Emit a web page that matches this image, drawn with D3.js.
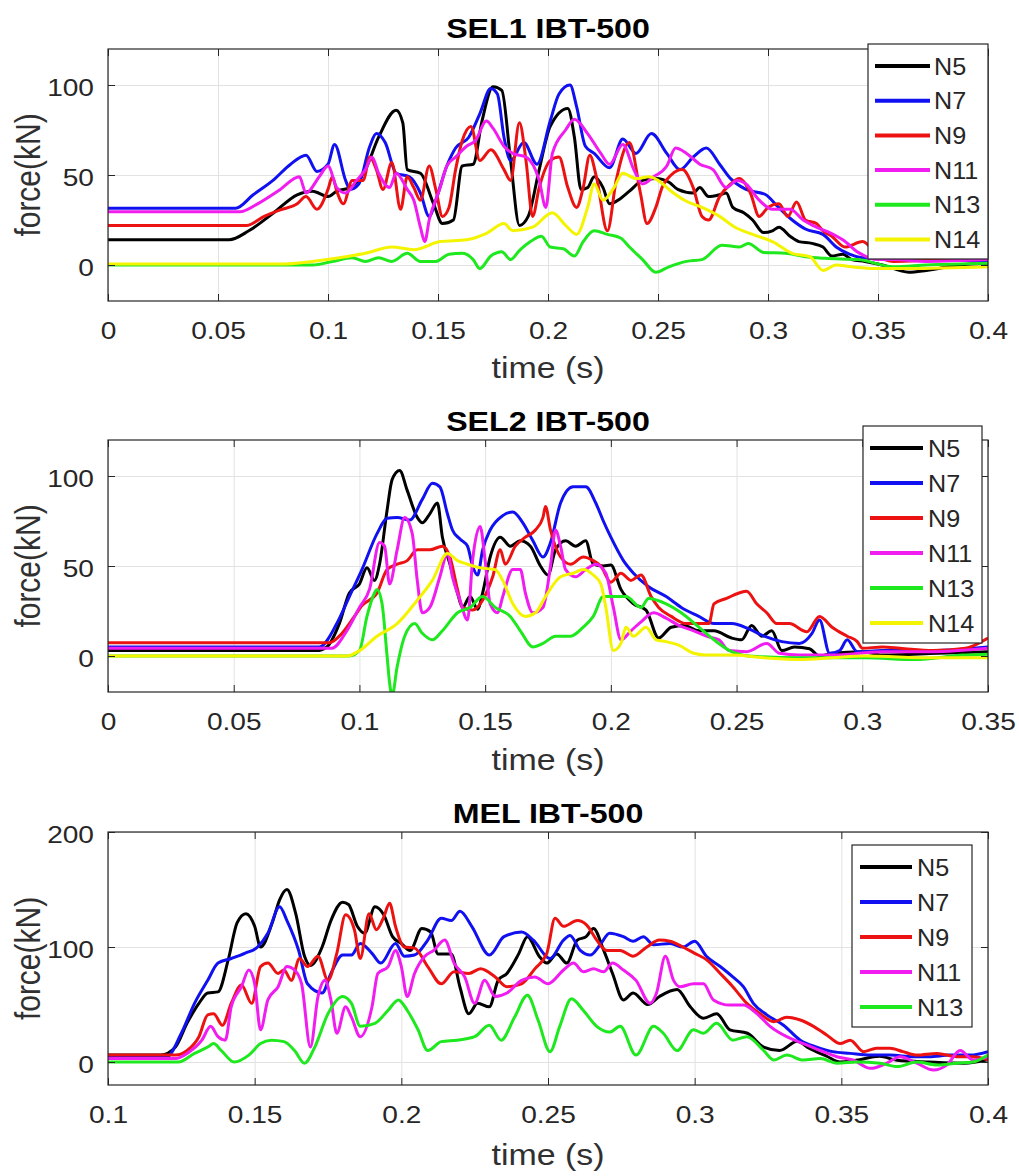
<!DOCTYPE html>
<html>
<head>
<meta charset="utf-8">
<script src="https://cdn.jsdelivr.net/npm/d3@7/dist/d3.min.js"></script>
<style>
  body { margin: 0; background: #fff; }
  text { font-family: "Liberation Sans", Arial, sans-serif; fill: #262626; }
</style>
</head>
<body>
<svg id="chart" width="1019" height="1176"></svg>
<script>
// ---- data (time s, force kN) ----
const seriesNames = ["N5", "N7", "N9", "N11", "N13", "N14"];

const sel1XTicks = [0, 0.05, 0.1, 0.15, 0.2, 0.25, 0.3, 0.35, 0.4];
const sel1YTicks = [0, 50, 100];
const sel2XTicks = [0, 0.05, 0.1, 0.15, 0.2, 0.25, 0.3, 0.35];
const sel2YTicks = [0, 50, 100];
const melXTicks = [0.1, 0.15, 0.2, 0.25, 0.3, 0.35, 0.4];
const melYTicks = [0, 100, 200];

const sel1N5 = [[0,14],[0.055,14],[0.064,19],[0.075,28.7],[0.086,39],[0.093,41],[0.1,38],[0.104,41],[0.11,43],[0.117,53],[0.123,71],[0.131,86],[0.134,79],[0.136,53],[0.142,51],[0.148,34],[0.152,23],[0.157,25],[0.161,55],[0.166,56],[0.17,80],[0.175,99],[0.179,97],[0.183,58],[0.187,22],[0.191,27],[0.196,53],[0.201,77],[0.209,87],[0.212,71],[0.215,42],[0.218,43],[0.221,49],[0.225,43],[0.228,34],[0.233,37],[0.237,41],[0.243,47],[0.249,48],[0.255,46],[0.259,42],[0.266,40],[0.269,43],[0.273,38],[0.278,39],[0.281,40],[0.284,32],[0.289,29],[0.293,25],[0.298,18],[0.302,19],[0.305,21],[0.31,16],[0.314,13],[0.32,12],[0.325,10],[0.329,5],[0.334,6],[0.338,3],[0.344,2],[0.352,0],[0.364,-4],[0.372,-3],[0.387,0],[0.4,1]];
const sel1N7 = [[0,31.5],[0.058,31.5],[0.066,39],[0.075,47],[0.083,56],[0.09,61],[0.095,52],[0.1,56],[0.103,67],[0.108,47],[0.11,42],[0.114,45],[0.119,66],[0.122,73],[0.126,68],[0.131,51],[0.137,49],[0.142,40],[0.146,27],[0.149,36],[0.154,55],[0.158,65],[0.164,71],[0.169,84],[0.174,98],[0.177,95],[0.18,71],[0.183,58],[0.189,68],[0.195,56],[0.201,80],[0.205,95],[0.21,100],[0.213,88],[0.217,66],[0.221,62],[0.228,54],[0.234,70],[0.24,62],[0.247,73],[0.254,62],[0.26,53],[0.266,60],[0.272,65],[0.278,56],[0.283,48],[0.29,42],[0.299,39],[0.304,33],[0.311,25],[0.317,20],[0.325,17],[0.331,10],[0.337,6],[0.343,4],[0.36,3],[0.372,3],[0.4,2]];
const sel1N9 = [[0,22],[0.063,22],[0.071,27],[0.078,30.5],[0.086,34],[0.09,38],[0.095,31],[0.1,42],[0.102,49],[0.104,41],[0.107,34],[0.111,47],[0.116,47],[0.119,60],[0.122,53],[0.125,42],[0.129,57],[0.133,31],[0.136,49],[0.139,43],[0.142,36],[0.146,55],[0.149,42],[0.152,27],[0.155,32],[0.158,53],[0.161,69],[0.165,77],[0.169,58],[0.174,64],[0.18,53],[0.183,47],[0.187,79],[0.19,58],[0.193,27],[0.196,43],[0.201,58],[0.205,60],[0.209,43],[0.213,32],[0.216,43],[0.219,61],[0.222,49],[0.227,19],[0.231,47],[0.237,68],[0.242,40],[0.245,23],[0.249,32],[0.252,43.5],[0.256,50],[0.261,53],[0.266,43],[0.27,27],[0.273,25],[0.278,38],[0.283,45],[0.287,48],[0.292,40],[0.296,27],[0.3,32],[0.305,34],[0.309,27],[0.313,35],[0.317,25],[0.322,23],[0.325,19],[0.329,16],[0.335,10],[0.343,13],[0.35,5],[0.357,2],[0.38,3],[0.4,3]];
const sel1N11 = [[0,29.6],[0.06,29.6],[0.068,34],[0.078,41.7],[0.087,49],[0.09,40],[0.096,49],[0.1,55],[0.104,43],[0.108,40],[0.113,47],[0.117,53],[0.12,60],[0.123,51],[0.128,43],[0.131,51],[0.136,42],[0.139,36],[0.142,21],[0.144,13],[0.146,25],[0.151,43],[0.154,55],[0.158,60],[0.163,66],[0.167,69],[0.172,80],[0.175,76],[0.18,66],[0.184,62],[0.19,60],[0.196,47],[0.199,32],[0.202,62],[0.208,75],[0.212,81],[0.218,73],[0.224,62],[0.228,56],[0.234,67],[0.239,53],[0.243,45],[0.248,49],[0.254,55],[0.258,65],[0.263,62],[0.269,56],[0.275,53],[0.281,43],[0.286,47],[0.29,45],[0.296,36],[0.302,31],[0.31,31],[0.316,25],[0.322,21],[0.328,18],[0.334,14],[0.341,7],[0.35,3],[0.357,3],[0.372,2],[0.4,3]];
const sel1N13 = [[0,0],[0.093,0],[0.102,2],[0.111,4],[0.117,2],[0.123,4],[0.129,2],[0.136,6.5],[0.142,2],[0.149,2],[0.155,6],[0.161,6.5],[0.166,3],[0.169,-2],[0.174,5],[0.179,7.4],[0.183,3],[0.187,8],[0.192,13],[0.197,16],[0.201,10],[0.207,9],[0.212,5],[0.216,13],[0.221,19],[0.227,17],[0.233,15],[0.237,10],[0.243,3],[0.249,-4],[0.255,-1],[0.263,2],[0.27,3],[0.279,11],[0.287,10],[0.291,12],[0.298,7],[0.308,6.5],[0.317,4.6],[0.326,3.7],[0.341,3],[0.357,-1],[0.372,0],[0.4,1]];
const sel1N14 = [[0,0.5],[0.078,0.5],[0.093,2],[0.108,4.6],[0.117,6.5],[0.129,10],[0.139,8.5],[0.151,13],[0.163,14],[0.172,17.6],[0.18,23],[0.184,19],[0.193,21],[0.202,29],[0.208,22],[0.213,17],[0.218,32],[0.221,45],[0.225,36],[0.23,43],[0.234,51],[0.24,48],[0.246,49],[0.25,47],[0.256,41],[0.262,36],[0.27,32],[0.278,27],[0.285,21],[0.293,17],[0.302,13],[0.311,6.5],[0.319,4.6],[0.325,-3],[0.331,0],[0.338,-1],[0.349,-2],[0.364,-2],[0.4,-1]];

const sel2N5 = [[0,3],[0.083,3],[0.087,5],[0.092,18],[0.096,35],[0.1,40],[0.103,49],[0.106,42],[0.108,51],[0.111,81],[0.113,98],[0.116,103],[0.119,92],[0.123,77],[0.125,74],[0.128,79],[0.131,85],[0.133,66],[0.136,51],[0.139,35],[0.141,27],[0.144,33],[0.147,26],[0.149,35],[0.152,55],[0.156,66],[0.16,61],[0.164,64],[0.168,61],[0.172,50],[0.175,45],[0.178,59],[0.182,64],[0.186,61],[0.19,64],[0.193,51],[0.197,50],[0.2,50.5],[0.204,37],[0.209,29],[0.214,25.5],[0.219,10],[0.224,16],[0.229,17],[0.235,14],[0.241,14],[0.248,10],[0.252,9],[0.256,17],[0.26,11],[0.264,14],[0.268,3],[0.273,5],[0.279,4],[0.283,0],[0.288,1.5],[0.3,2.4],[0.308,0.5],[0.33,1.5],[0.35,2.4]];
const sel2N7 = [[0,5],[0.084,5],[0.091,18],[0.096,33],[0.101,48],[0.107,68],[0.111,76.5],[0.115,77],[0.12,75.5],[0.125,87],[0.129,96],[0.132,94],[0.135,79],[0.137,70],[0.14,65],[0.143,61],[0.145,50],[0.147,45],[0.149,59],[0.152,70],[0.157,78],[0.161,80],[0.165,74],[0.169,64],[0.173,55],[0.176,63],[0.18,85],[0.185,94],[0.19,94],[0.194,85],[0.197,75],[0.2,66],[0.205,53],[0.209,46],[0.215,38.5],[0.222,33],[0.228,27],[0.235,22],[0.241,18],[0.248,18],[0.255,15],[0.261,11],[0.268,8],[0.275,7],[0.28,12.6],[0.283,20],[0.287,1.5],[0.291,3],[0.294,9],[0.298,2.4],[0.308,3],[0.328,3],[0.35,5]];
const sel2N9 = [[0,7.4],[0.088,7.4],[0.092,11],[0.098,22],[0.101,28],[0.107,35],[0.111,48],[0.115,51],[0.119,53],[0.123,59],[0.128,59],[0.133,61],[0.136,55],[0.139,37],[0.141,27],[0.145,25.5],[0.149,31],[0.153,44],[0.156,59],[0.158,51],[0.162,61],[0.166,66],[0.17,70],[0.173,77],[0.174,83],[0.176,70],[0.18,55],[0.184,51],[0.189,55],[0.193,53],[0.196,50],[0.2,41],[0.204,46],[0.208,42],[0.212,45],[0.216,33],[0.219,27],[0.224,22],[0.23,18],[0.235,18],[0.239,18],[0.241,29],[0.246,32],[0.251,35],[0.254,36],[0.258,29],[0.262,24],[0.266,18],[0.271,18],[0.278,13.5],[0.283,22],[0.288,16],[0.294,11],[0.298,8],[0.3,4.3],[0.308,5],[0.315,4.3],[0.328,3],[0.341,4.3],[0.35,10]];
const sel2N11 = [[0,4.3],[0.089,4.3],[0.095,14],[0.1,27],[0.104,37],[0.108,63],[0.11,61],[0.112,40],[0.115,59],[0.118,77],[0.121,68],[0.123,42],[0.125,24],[0.128,27],[0.132,44],[0.135,57],[0.137,44],[0.14,31],[0.143,20],[0.145,53],[0.148,72],[0.15,53],[0.152,29],[0.155,24],[0.157,33],[0.161,48],[0.164,48],[0.166,35],[0.169,24],[0.173,27],[0.176,50],[0.178,70],[0.18,61],[0.182,48],[0.186,44],[0.19,48],[0.194,51],[0.198,46],[0.201,27],[0.204,9],[0.208,14],[0.212,19],[0.217,24],[0.222,21],[0.227,17],[0.233,14],[0.238,11],[0.243,9],[0.247,3],[0.254,2.4],[0.262,7],[0.267,1.5],[0.275,0.5],[0.288,0.5],[0.308,2.4],[0.328,2.4],[0.35,4.3]];
const sel2N13 = [[0,0],[0.096,0],[0.1,3],[0.103,22],[0.106,35],[0.107,37],[0.109,29],[0.111,0],[0.112,-15],[0.113,-22],[0.115,-6],[0.118,11],[0.122,18],[0.125,12.6],[0.129,9],[0.133,14],[0.139,24],[0.144,27],[0.149,33],[0.154,27],[0.16,22],[0.164,14],[0.169,5],[0.173,7],[0.178,11],[0.184,11],[0.189,16],[0.193,22],[0.197,33],[0.201,33],[0.206,33],[0.212,27],[0.215,32],[0.222,29],[0.228,24],[0.235,16],[0.241,9],[0.248,2.4],[0.255,0],[0.275,-1],[0.301,-1],[0.321,-2],[0.34,0.5],[0.35,1]];
const sel2N14 = [[0,0],[0.095,0],[0.1,3],[0.107,11],[0.115,18],[0.123,31],[0.129,42],[0.135,57],[0.139,53],[0.143,51],[0.148,49],[0.154,48],[0.157,42],[0.161,29],[0.166,22],[0.17,24],[0.174,33],[0.18,44],[0.185,46],[0.189,48],[0.193,45],[0.196,40],[0.198,27],[0.201,3],[0.204,7],[0.206,16],[0.209,11],[0.214,16],[0.218,9],[0.222,8],[0.227,6],[0.233,1.5],[0.238,0.5],[0.248,0.5],[0.261,-1],[0.275,-2],[0.288,-1],[0.301,0],[0.328,-1],[0.35,-1]];

const melN5 = [[0.1,6],[0.118,6],[0.123,13],[0.127,34],[0.131,51],[0.134,60],[0.1375,61],[0.141,89],[0.144,121],[0.147,129],[0.15,118],[0.152,100],[0.156,121],[0.1585,141],[0.161,150],[0.164,129],[0.167,92],[0.169,84],[0.173,100],[0.176,123],[0.18,139],[0.182,137],[0.185,118],[0.1875,112],[0.191,135],[0.194,128],[0.197,109],[0.2,103],[0.203,97],[0.207,116],[0.21,113],[0.2125,94],[0.217,94],[0.22,65],[0.223,42],[0.226,51],[0.23,48],[0.233,71],[0.236,77],[0.24,94],[0.243,109],[0.247,92],[0.2496,86],[0.253,94],[0.2564,86],[0.26,106],[0.263,109],[0.2655,116],[0.269,97],[0.272,77],[0.2757,54],[0.279,60],[0.284,50],[0.288,57],[0.294,63],[0.2985,48],[0.303,38],[0.3075,42],[0.312,28],[0.318,25],[0.3235,13],[0.329,10],[0.335,18],[0.339,12],[0.345,5],[0.3496,0],[0.355,1.5],[0.363,5],[0.369,1.5],[0.38,0],[0.392,-1],[0.4,2]];
const melN7 = [[0.1,4.6],[0.12,4.6],[0.125,25],[0.1295,51],[0.134,71],[0.1375,86],[0.142,90],[0.1466,94.5],[0.151,100],[0.1545,112],[0.1585,135],[0.161,123],[0.165,97],[0.168,68],[0.173,60],[0.176,77],[0.18,93],[0.183,93],[0.186,103],[0.19,94.5],[0.193,86],[0.198,103],[0.201,92],[0.2045,93],[0.209,106],[0.2136,125],[0.217,123],[0.22,131],[0.224,118],[0.23,93],[0.235,109],[0.241,113],[0.245,106],[0.2507,90],[0.2553,106],[0.2575,110],[0.261,97],[0.2644,93],[0.2678,102],[0.271,112],[0.2757,109],[0.279,105],[0.2825,109],[0.286,102],[0.2916,103],[0.296,100],[0.3,105],[0.304,92],[0.3087,83],[0.313,74],[0.3166,65.5],[0.32,51],[0.3246,41],[0.3303,32],[0.336,19],[0.3416,13],[0.347,9],[0.353,7.5],[0.36,6],[0.3666,6],[0.3746,4.6],[0.38,4.6],[0.387,6],[0.394,6],[0.4,9]];
const melN9 = [[0.1,6],[0.123,6],[0.127,10],[0.131,22],[0.134,41],[0.136,42],[0.139,32],[0.142,51],[0.1455,67],[0.149,51],[0.152,83],[0.1545,86],[0.158,77],[0.16,80],[0.1625,71],[0.1653,90],[0.168,83],[0.1716,92],[0.175,71],[0.178,94.5],[0.181,128],[0.184,115],[0.186,90],[0.189,129],[0.1915,115],[0.194,126],[0.196,138],[0.198,118],[0.201,100],[0.2045,99],[0.209,83],[0.2136,68],[0.218,78.5],[0.223,77],[0.227,81],[0.232,74],[0.236,65.5],[0.241,68],[0.2455,81],[0.2496,94.5],[0.2524,125],[0.2553,118],[0.26,123],[0.2632,119],[0.2666,106],[0.27,97],[0.2746,97],[0.279,92],[0.2837,100],[0.288,106],[0.2916,105],[0.296,100],[0.3,94.5],[0.304,89],[0.3087,77],[0.313,65.5],[0.3178,51],[0.3223,42],[0.327,35],[0.3314,39],[0.336,36.5],[0.3405,31],[0.345,23.5],[0.3496,16],[0.353,19],[0.3576,9],[0.362,12],[0.3666,12],[0.371,9],[0.3757,6],[0.3826,7.5],[0.3894,4.6],[0.395,4.6],[0.4,2]];
const melN11 = [[0.1,3],[0.123,3],[0.127,7.5],[0.132,19],[0.135,31],[0.1375,22],[0.14,19],[0.142,48],[0.1455,65.5],[0.148,80],[0.15,68],[0.152,28],[0.1545,54],[0.158,65.5],[0.161,83],[0.1636,80],[0.166,68],[0.169,13],[0.1716,57],[0.174,71],[0.176,54],[0.178,25],[0.181,48],[0.183,39],[0.186,22],[0.19,48],[0.192,77],[0.1955,83],[0.198,97],[0.2,83],[0.202,57],[0.2045,77],[0.208,92],[0.211,97],[0.2148,106],[0.218,86],[0.2216,74],[0.225,51],[0.2284,71],[0.232,57],[0.236,60],[0.241,71],[0.2455,74],[0.25,68],[0.2553,80],[0.2587,86],[0.262,78.5],[0.2655,81],[0.269,78.5],[0.272,86],[0.2757,80],[0.28,71],[0.2848,51],[0.287,60],[0.29,92],[0.2928,71],[0.295,65.5],[0.2996,68],[0.303,68],[0.3064,54],[0.312,49.5],[0.3166,49.5],[0.3212,42],[0.3257,31],[0.3314,22],[0.337,16],[0.3428,10],[0.3485,4.6],[0.354,1.7],[0.36,-5.5],[0.3655,-1],[0.37,4.6],[0.3757,-1],[0.3814,-7],[0.386,-2.5],[0.3905,10],[0.395,1.7],[0.4,4.6]];
const melN13 = [[0.1,0],[0.124,0],[0.1295,7.5],[0.134,13],[0.136,16],[0.1386,10],[0.143,0],[0.148,6],[0.152,16],[0.1557,19],[0.16,17.7],[0.1636,10],[0.167,-1],[0.1705,13],[0.175,42],[0.18,57],[0.183,51],[0.186,31],[0.191,33.6],[0.1955,45],[0.199,54],[0.202,45],[0.2057,28],[0.209,10],[0.2136,17.7],[0.219,19],[0.225,22],[0.23,32],[0.234,19],[0.2386,39],[0.243,58],[0.2466,36.5],[0.2507,9],[0.254,31],[0.258,55],[0.262,45],[0.2666,31],[0.271,26],[0.2746,31],[0.28,6],[0.286,31],[0.2893,25],[0.294,10],[0.2996,28],[0.303,25],[0.3075,33.6],[0.313,19],[0.3178,22],[0.3235,10],[0.327,1.7],[0.3314,6],[0.337,1.7],[0.3428,3],[0.3485,-1],[0.3553,0],[0.3632,-1],[0.369,-4],[0.3757,0],[0.3826,-2.5],[0.3894,-1],[0.395,0],[0.4,6]];

const lineColors = {
  N5: "#000000", N7: "#1010f0", N9: "#ec1212", N11: "#f01cf0", N13: "#1ee81e", N14: "#f4f400"
};

const SX = 1.17; // glyphs in the figure are wider than tall
const X0 = 108, X1 = 988;

const panels = [
  {
    title: "SEL1 IBT-500", titleY: 28, top: 49, bottom: 301, xlabelY: 368,
    xDomain: [0, 0.4], yDomain: [-20, 120], xTicks: sel1XTicks, yTicks: sel1YTicks,
    series: [sel1N5, sel1N7, sel1N9, sel1N11, sel1N13, sel1N14],
    legend: { x: 868, y: 44, w: 120, h: 215, row0: 22, step: 34.7, l0: 7, l1: 62, tx: 66 }
  },
  {
    title: "SEL2 IBT-500", titleY: 421, top: 440, bottom: 692, xlabelY: 760,
    xDomain: [0, 0.35], yDomain: [-20, 120], xTicks: sel2XTicks, yTicks: sel2YTicks,
    series: [sel2N5, sel2N7, sel2N9, sel2N11, sel2N13, sel2N14],
    legend: { x: 863, y: 426, w: 119, h: 217, row0: 22, step: 35, l0: 7, l1: 60, tx: 65 }
  },
  {
    title: "MEL IBT-500", titleY: 813, top: 832, bottom: 1085, xlabelY: 1155,
    xDomain: [0.1, 0.4], yDomain: [-20, 200], xTicks: melXTicks, yTicks: melYTicks,
    series: [melN5, melN7, melN9, melN11, melN13],
    legend: { x: 852, y: 845, w: 120, h: 182, row0: 22, step: 35, l0: 8, l1: 60, tx: 65 }
  }
];

const svg = d3.select("#chart");
const fmt = d => String(+d.toFixed(2));

function wideText(sel) {
  sel.attr("transform", function() {
    const t = d3.select(this).attr("transform");
    return (t ? t + " " : "") + `scale(${SX},1)`;
  });
}

panels.forEach(function(p, i) {
  const x = d3.scaleLinear().domain(p.xDomain).range([X0, X1]);
  const y = d3.scaleLinear().domain(p.yDomain).range([p.bottom, p.top]);
  const h = p.bottom - p.top, w = X1 - X0;
  const g = svg.append("g").attr("class", "panel-" + i);

  // grid
  g.append("g")
    .attr("transform", `translate(0,${p.bottom})`)
    .call(d3.axisBottom(x).tickValues(p.xTicks).tickSize(-h).tickFormat(""))
    .call(a => a.select(".domain").remove())
    .selectAll("line").attr("stroke", "#e2e2e2").attr("stroke-width", 1);
  g.append("g")
    .attr("transform", `translate(${X0},0)`)
    .call(d3.axisLeft(y).tickValues(p.yTicks).tickSize(-w).tickFormat(""))
    .call(a => a.select(".domain").remove())
    .selectAll("line").attr("stroke", "#e2e2e2").attr("stroke-width", 1);

  // lines
  g.append("clipPath").attr("id", "clip" + i)
    .append("rect").attr("x", X0).attr("y", p.top).attr("width", w).attr("height", h);

  const line = d3.line().curve(d3.curveMonotoneX).x(d => x(d[0])).y(d => y(d[1]));
  g.append("g").attr("clip-path", `url(#clip${i})`)
    .selectAll("path")
    .data(p.series)
    .join("path")
    .attr("d", d => line(d))
    .attr("fill", "none")
    .attr("stroke", (d, k) => lineColors[seriesNames[k]])
    .attr("stroke-width", 3)
    .attr("stroke-linejoin", "round");

  // axes, ticks pointing inward like matlab
  const bx = g.append("g").attr("transform", `translate(0,${p.bottom})`)
    .call(d3.axisBottom(x).tickValues(p.xTicks).tickSize(-7).tickPadding(21).tickFormat(fmt));
  const tx = g.append("g").attr("transform", `translate(0,${p.top})`)
    .call(d3.axisTop(x).tickValues(p.xTicks).tickSize(-7).tickFormat(""));
  const ly = g.append("g").attr("transform", `translate(${X0},0)`)
    .call(d3.axisLeft(y).tickValues(p.yTicks).tickSize(-7).tickPadding(12).tickFormat(fmt));
  const ry = g.append("g").attr("transform", `translate(${X1},0)`)
    .call(d3.axisRight(y).tickValues(p.yTicks).tickSize(-7).tickFormat(""));
  [bx, tx, ly, ry].forEach(a => {
    a.select(".domain").remove();
    a.selectAll("line").attr("stroke", "#262626");
    a.selectAll("text").attr("font-size", 24).attr("font-family", null).attr("fill", "#303030").call(wideText);
  });
  ly.selectAll("text").attr("dy", "0.45em");

  g.append("rect")
    .attr("x", X0).attr("y", p.top).attr("width", w).attr("height", h)
    .attr("fill", "none").attr("stroke", "#262626").attr("stroke-width", 1.2);

  // title and labels
  g.append("text")
    .attr("transform", `translate(${(X0 + X1) / 2},${p.titleY}) scale(${SX},1)`)
    .attr("text-anchor", "middle").attr("dy", "0.36em")
    .attr("font-size", 27.5).attr("font-weight", "bold").style("fill", "#000")
    .text(p.title);
  g.append("text")
    .attr("transform", `translate(${(X0 + X1) / 2},${p.xlabelY}) scale(${SX},1)`)
    .attr("text-anchor", "middle").attr("dy", "0.36em")
    .attr("font-size", 29).style("fill", "#303030")
    .text("time (s)");
  g.append("text")
    .attr("transform", `translate(27,${(p.top + p.bottom) / 2}) rotate(-90) scale(1,${SX})`)
    .attr("text-anchor", "middle").attr("dy", "0.36em")
    .attr("font-size", 30).style("fill", "#303030")
    .text("force(kN)");

  // legend
  const L = p.legend;
  const lg = g.append("g").attr("transform", `translate(${L.x},${L.y})`);
  lg.append("rect").attr("width", L.w).attr("height", L.h)
    .attr("fill", "#fff").attr("stroke", "#262626").attr("stroke-width", 1.2);
  const row = lg.selectAll("g.row")
    .data(p.series.map((s, k) => seriesNames[k]))
    .join("g").attr("class", "row")
    .attr("transform", (d, k) => `translate(0,${L.row0 + k * L.step})`);
  row.append("line")
    .attr("x1", L.l0).attr("x2", L.l1)
    .attr("stroke", d => lineColors[d]).attr("stroke-width", 4);
  row.append("text")
    .attr("transform", `translate(${L.tx},0) scale(1.05,1)`)
    .attr("dy", "0.36em").attr("font-size", 24)
    .text(d => d);
});
</script>
</body>
</html>
